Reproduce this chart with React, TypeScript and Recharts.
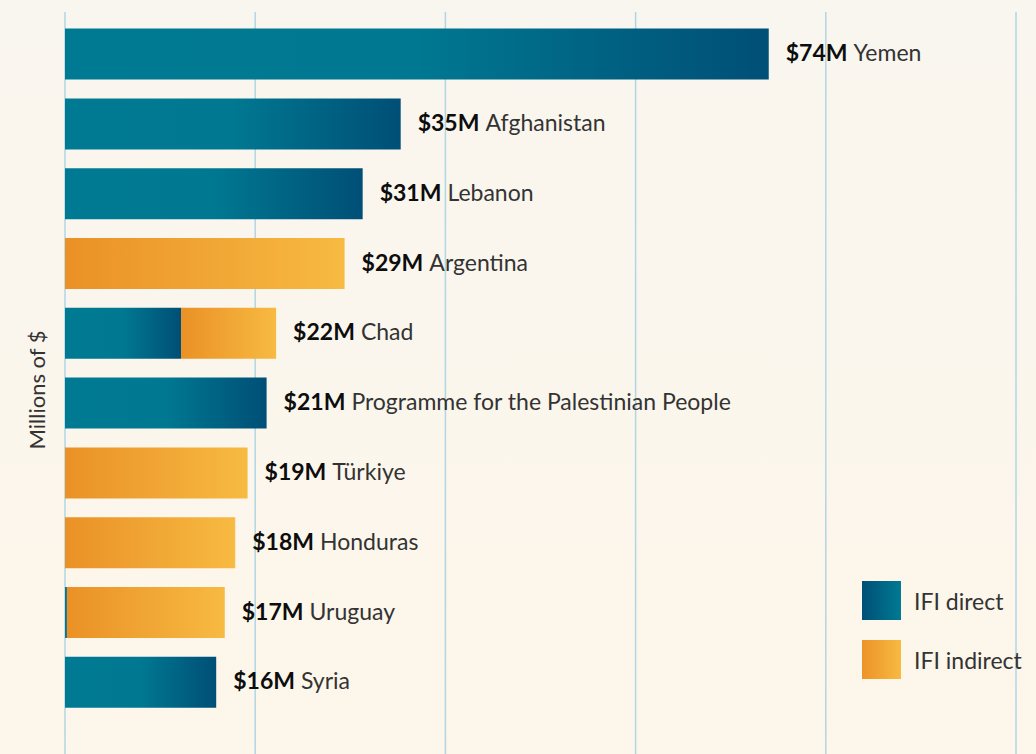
import { Bar, BarChart, CartesianGrid, LabelList, XAxis, YAxis } from "recharts";

const COUNTRIES = [
  "Yemen",
  "Afghanistan",
  "Lebanon",
  "Argentina",
  "Chad",
  "Programme for the Palestinian People",
  "Türkiye",
  "Honduras",
  "Uruguay",
  "Syria",
];
const DIRECT = [74, 35.3, 31.3, 0, 12.2, 21.2, 0, 0, 0.2, 15.9];
const INDIRECT = [0, 0, 0, 29.4, 10, 0, 19.2, 17.9, 16.6, 0];
const TOTAL_LABELS = ["$74M", "$35M", "$31M", "$29M", "$22M", "$21M", "$19M", "$18M", "$17M", "$16M"];
const X_TICKS = [0, 20, 40, 60, 80, 100];

const FONT = "Lato, 'Noto Sans', sans-serif";

const rows = COUNTRIES.map((name, i) => ({
  name,
  direct: DIRECT[i],
  indirect: INDIRECT[i],
  label: TOTAL_LABELS[i],
}));

// label sits after the last non-empty segment of each row
function makeEndLabel(segment: "direct" | "indirect") {
  return function EndLabel(props: any) {
    const { x, y, width, height, value } = props;
    const r = rows.find((d) => d.name === value);
    if (!r) return null;
    const isLast = segment === "indirect" ? r.indirect > 0 : r.indirect === 0;
    if (!isLast) return null;
    return (
      <text
        x={x + width + 17}
        y={y + height / 2 - 2}
        dominantBaseline="central"
        fontFamily={FONT}
        fontSize={23}
      >
        <tspan fontWeight={700} fill="#0d0d0d">
          {r.label}
        </tspan>
        <tspan fill="#333" dx={6}>
          {r.name}
        </tspan>
      </text>
    );
  };
}
const DirectLabel = makeEndLabel("direct");
const IndirectLabel = makeEndLabel("indirect");

function LegendBox() {
  const items = [
    { label: "IFI direct", fill: "linear-gradient(90deg, #004f77, #007a92)" },
    { label: "IFI indirect", fill: "linear-gradient(90deg, #ec9327, #f7ba42)" },
  ];
  return (
    <div style={{ position: "absolute", top: 581, left: 862, fontFamily: FONT }}>
      {items.map((it) => (
        <div key={it.label} style={{ display: "flex", alignItems: "center", height: 39, marginBottom: 20 }}>
          <div style={{ width: 39, height: 39, background: it.fill }} />
          <span style={{ marginLeft: 13, fontSize: 23, color: "#333", whiteSpace: "nowrap" }}>{it.label}</span>
        </div>
      ))}
    </div>
  );
}

export default function App() {
  return (
    <div
      style={{
        position: "absolute",
        top: 0,
        left: 0,
        width: 1036,
        height: 754,
        background: "linear-gradient(180deg, #f9f6ef, #fdf6ea)",
        overflow: "hidden",
      }}
    >
      <BarChart
        width={1036}
        height={754}
        data={rows}
        layout="vertical"
        margin={{ top: 19.6, right: 20, bottom: 36.4, left: 65 }}
        barSize={51}
      >
        <defs>
          <linearGradient id="gDirect" x1="0" y1="0" x2="1" y2="0">
            <stop offset="0" stopColor="#007a92" />
            <stop offset="0.5" stopColor="#007891" />
            <stop offset="1" stopColor="#004f76" />
          </linearGradient>
          <linearGradient id="gIndirect" x1="0" y1="0" x2="1" y2="0">
            <stop offset="0" stopColor="#ea9126" />
            <stop offset="1" stopColor="#f7ba42" />
          </linearGradient>
        </defs>
        <CartesianGrid horizontal={false} stroke="#b0d6e4" strokeWidth={1.5} y={12} height={742} />
        <XAxis type="number" domain={[0, 100]} ticks={X_TICKS} hide />
        <YAxis type="category" dataKey="name" hide />
        <Bar dataKey="direct" stackId="a" fill="url(#gDirect)" isAnimationActive={false}>
          <LabelList dataKey="name" content={<DirectLabel />} />
        </Bar>
        <Bar dataKey="indirect" stackId="a" fill="url(#gIndirect)" isAnimationActive={false}>
          <LabelList dataKey="name" content={<IndirectLabel />} />
        </Bar>
        <text
          x={36}
          y={390}
          transform="rotate(-90 36 390)"
          textAnchor="middle"
          dominantBaseline="central"
          fontFamily={FONT}
          fontSize={22}
          fill="#333"
        >
          Millions of $
        </text>
      </BarChart>
      <LegendBox />
    </div>
  );
}
